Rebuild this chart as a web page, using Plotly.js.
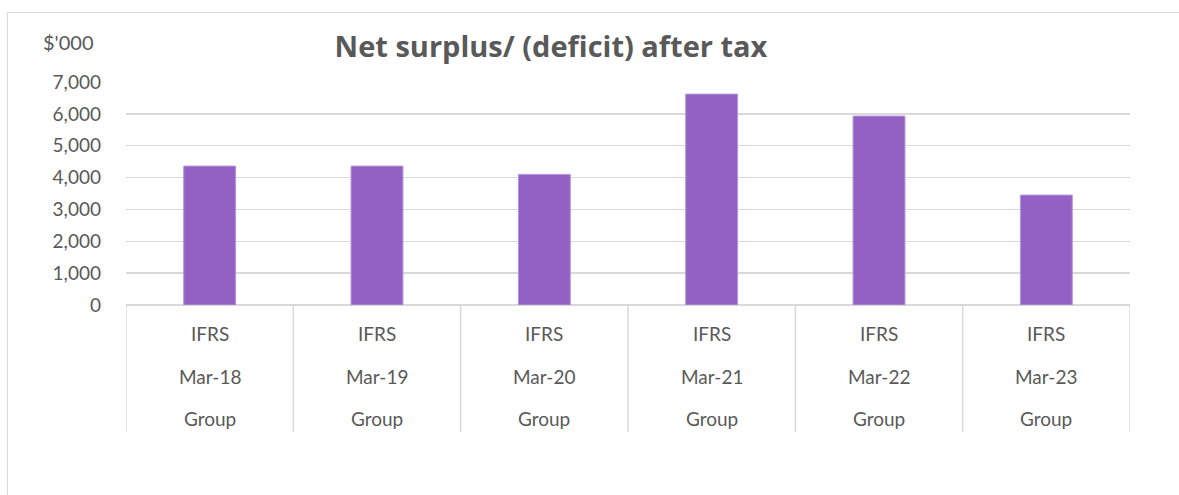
<!DOCTYPE html>
<html>
<head>
<meta charset="utf-8">
<script src="https://cdn.plot.ly/plotly-3.0.1.min.js"></script>
<style>
  html, body { margin: 0; padding: 0; background: #fff; }
  #wrap { position: relative; width: 1179px; height: 495px; overflow: hidden; }
  #frame { position: absolute; left: 7px; top: 12px; width: 1190px; height: 500px; border: 1.5px solid #d9d9d9; box-sizing: border-box; pointer-events: none; }
  #chart { position: absolute; left: 0; top: 0; width: 1179px; height: 495px; }
</style>
</head>
<body>
<div id="wrap">
  <div id="chart"></div>
  <div id="frame"></div>
</div>
<script>
const standards = ["IFRS", "IFRS", "IFRS", "IFRS", "IFRS", "IFRS"];
const periods = ["Mar-18", "Mar-19", "Mar-20", "Mar-21", "Mar-22", "Mar-23"];
const entities = ["Group", "Group", "Group", "Group", "Group", "Group"];
const surplus = [4360, 4360, 4100, 6620, 5930, 3450];
const yTicks = [0, 1000, 2000, 3000, 4000, 5000, 6000, 7000];

const W = 1179, H = 495;
const plotL = 126, plotR = 1130, plotT = 82, plotB = 305;
const py = p => (plotB - p) / (plotB - plotT);
const px = p => (p - plotL) / (plotR - plotL);
const txt = '#595959';
const grid = '#d9d9d9';
const font = 'Lato, "Open Sans", sans-serif';

const idx = periods.map((_, i) => i);

const annotations = [];
const rows = [[standards, 333], [periods, 376], [entities, 418]];
rows.forEach(([arr, ypx]) => {
  arr.forEach((t, i) => {
    annotations.push({
      x: idx[i], xref: 'x', y: py(ypx), yref: 'paper',
      text: t, showarrow: false, xanchor: 'center', yanchor: 'middle',
      font: {family: font, size: 19, color: txt}
    });
  });
});
annotations.push({
  x: px(68), xref: 'paper', y: py(42), yref: 'paper',
  text: "$'000", showarrow: false, xanchor: 'center', yanchor: 'middle',
  font: {family: font, size: 20, color: txt}
});

const shapes = [];
for (let i = 0; i <= periods.length; i++) {
  shapes.push({
    type: 'line', xref: 'x', yref: 'paper',
    x0: i - 0.5, x1: i - 0.5, y0: 0, y1: py(432),
    line: {color: grid, width: 1.5}
  });
}

const data = [{
  type: 'bar',
  x: idx,
  y: surplus,
  width: 0.31,
  marker: {color: '#9360c4', line: {color: '#b596dc', width: 1}},
  hoverinfo: 'y'
}];

const layout = {
  width: W, height: H,
  margin: {l: plotL, r: W - plotR, t: plotT, b: H - plotB, pad: 0},
  paper_bgcolor: 'rgba(0,0,0,0)',
  plot_bgcolor: 'rgba(0,0,0,0)',
  showlegend: false,
  title: {
    text: '<b>Net surplus/ (deficit) after tax</b>',
    x: 551 / W, xref: 'container', xanchor: 'center',
    y: 1 - 47 / H, yref: 'container', yanchor: 'middle',
    font: {family: '"Open Sans", sans-serif', size: 29, color: txt}
  },
  xaxis: {
    range: [-0.5, periods.length - 0.5],
    showticklabels: false, showgrid: false, zeroline: false,
    ticks: '', fixedrange: true
  },
  yaxis: {
    range: [0, 7000],
    tickvals: yTicks,
    ticktext: yTicks.map(v => v.toLocaleString('en-US')),
    tickfont: {family: font, size: 19, color: txt},
    showgrid: true, gridcolor: grid, gridwidth: 1.5,
    zeroline: true, zerolinecolor: grid, zerolinewidth: 1.5,
    ticks: '', ticklabelstandoff: 24, fixedrange: true
  },
  bargap: 0.69,
  annotations: annotations,
  shapes: shapes
};

Plotly.newPlot('chart', data, layout, {displayModeBar: false, staticPlot: true});
</script>
</body>
</html>
